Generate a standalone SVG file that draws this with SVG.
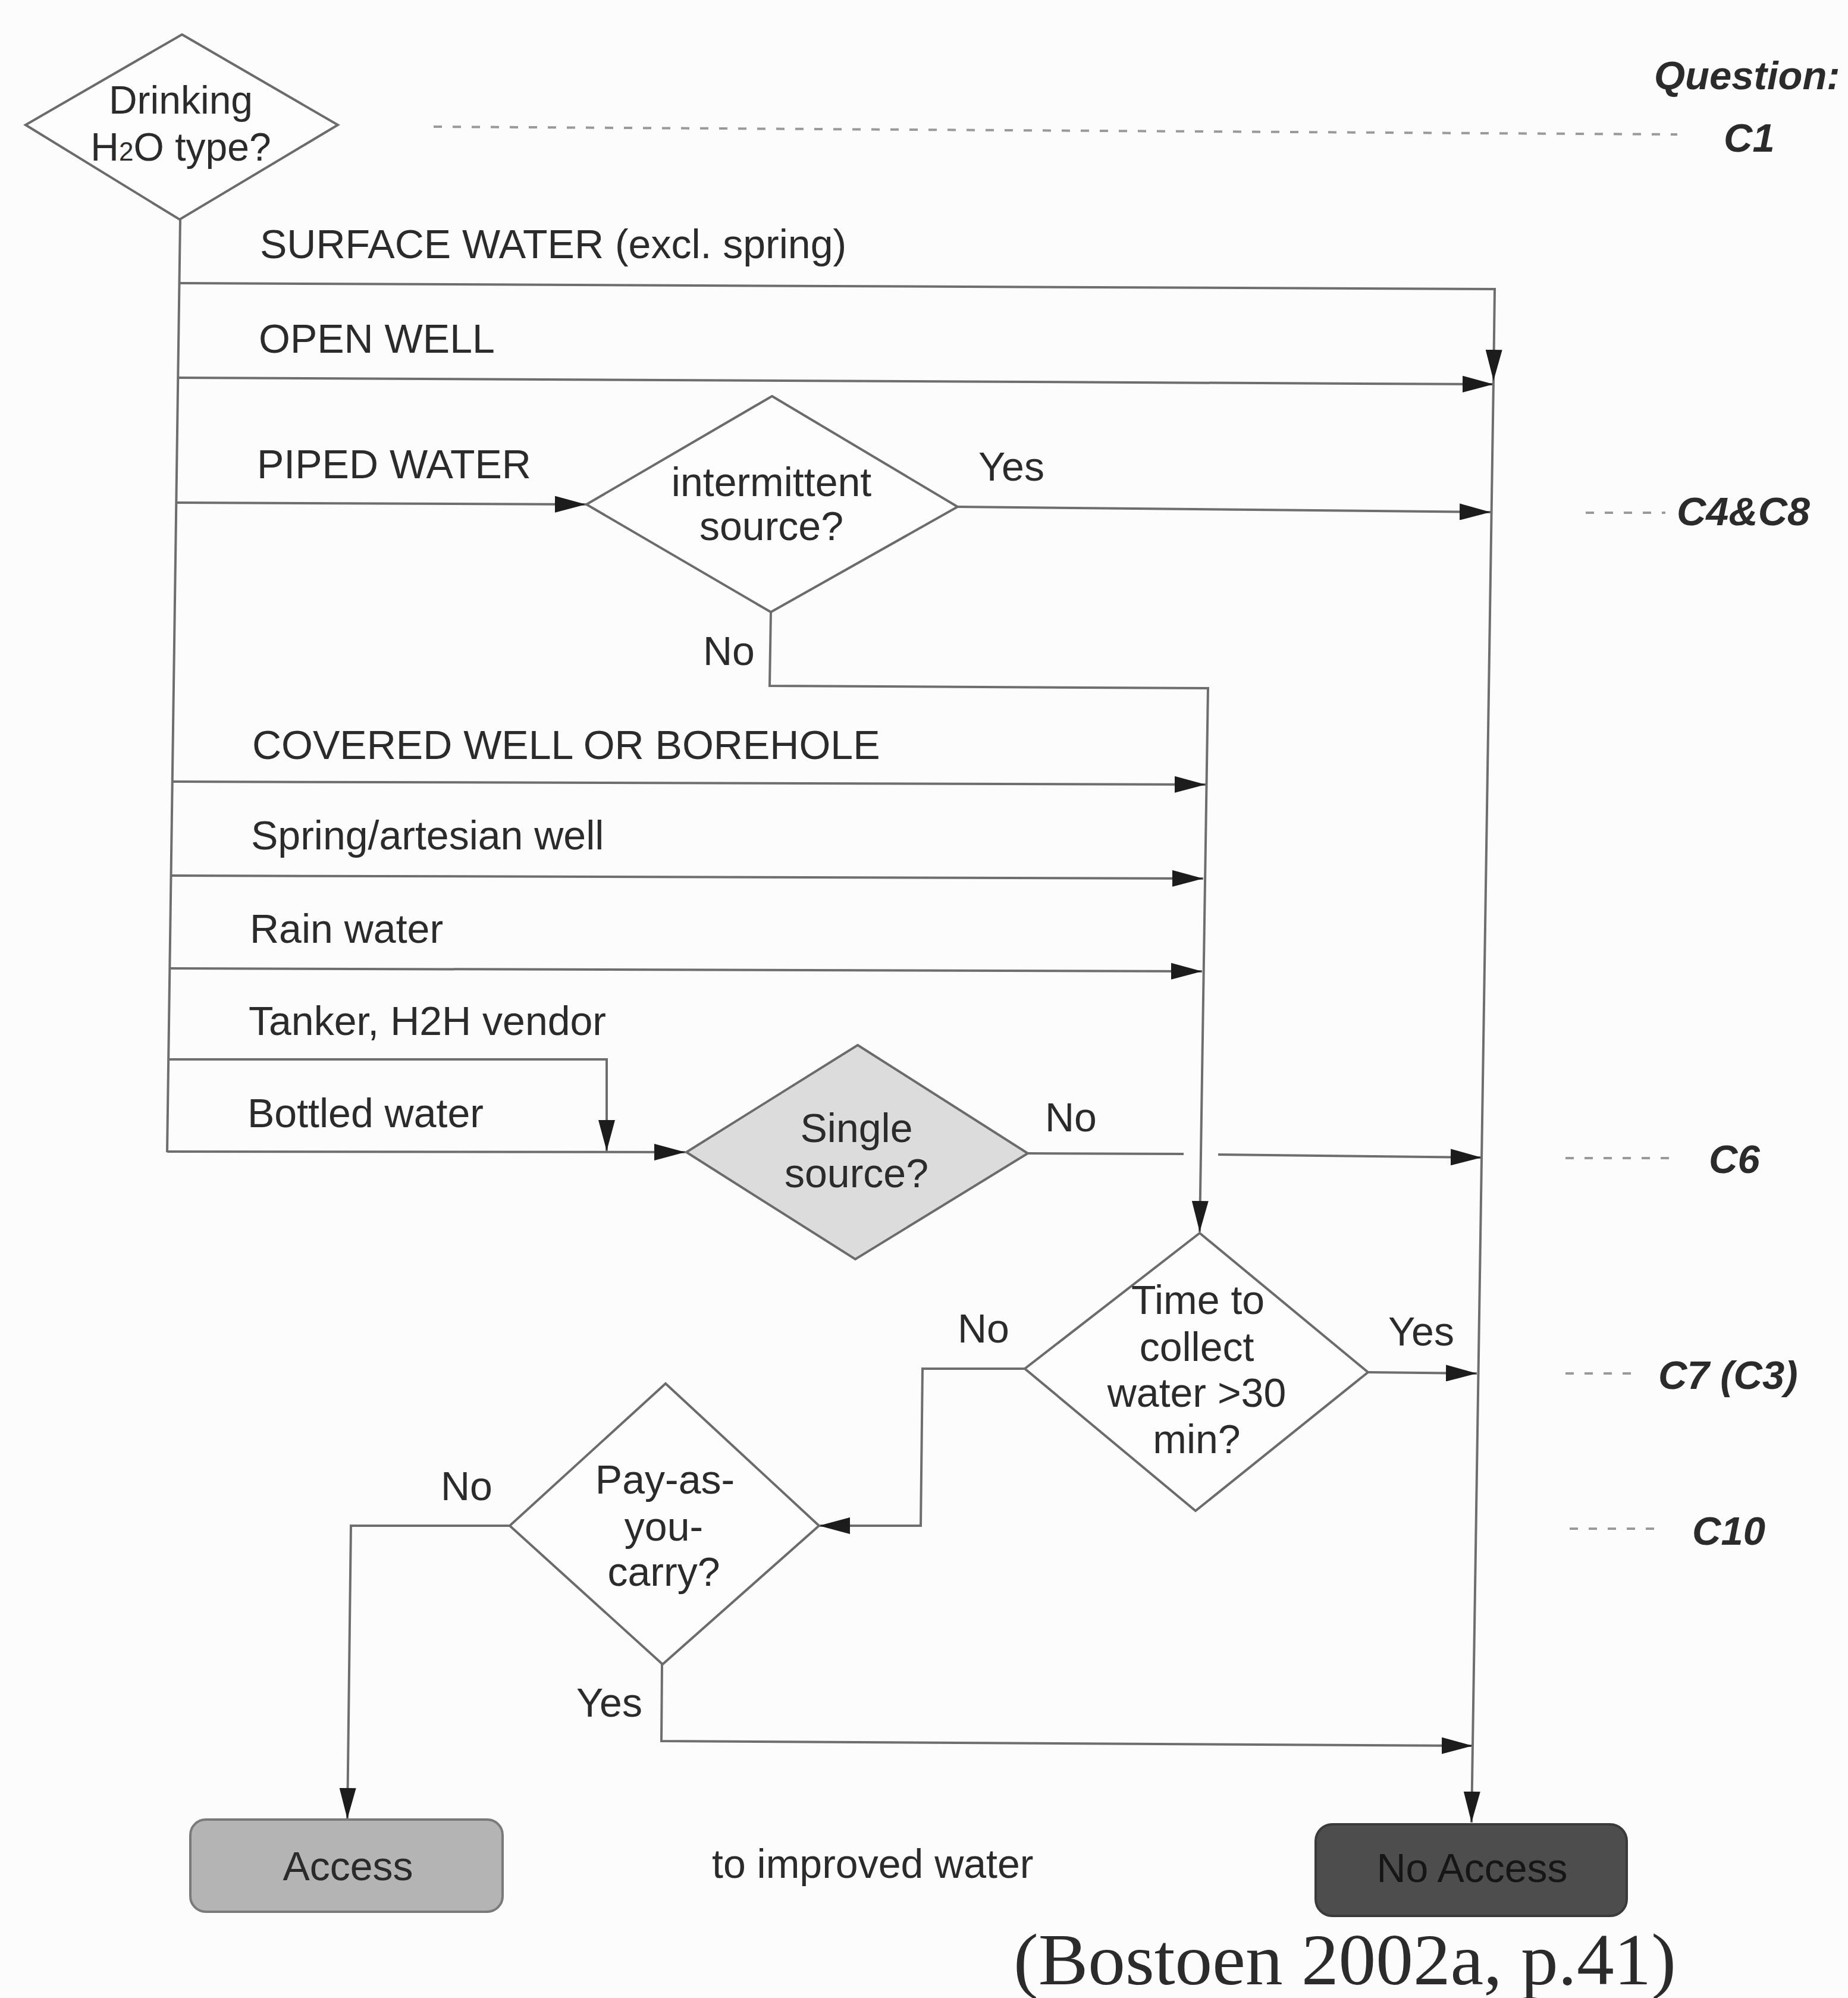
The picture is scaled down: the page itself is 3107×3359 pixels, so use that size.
<svg xmlns="http://www.w3.org/2000/svg" width="3107" height="3359" viewBox="0 0 3107 3359">
<defs>
<marker id="arr" viewBox="0 0 52 28" refX="52" refY="14" markerUnits="userSpaceOnUse" markerWidth="52" markerHeight="28" orient="auto">
<path d="M0,0 L52,14 L0,28 z" fill="#1c1c1c"/>
</marker>
<style>
.t{font-family:"Liberation Sans",Arial,sans-serif;font-size:68px;fill:#2b2b2b}
.c{text-anchor:middle}
.q{font-family:"Liberation Sans",Arial,sans-serif;font-size:67px;font-weight:bold;font-style:italic;fill:#2b2b2b}
.ln{fill:none;stroke:#6e6e6e;stroke-width:4}
.ar{fill:none;stroke:#6e6e6e;stroke-width:4;marker-end:url(#arr)}
.dash{fill:none;stroke:#9a9a9a;stroke-width:4;stroke-dasharray:14 18}
.dia{fill:#fdfdfd;stroke:#6b6b6b;stroke-width:4}
</style>
</defs>
<rect x="0" y="0" width="3107" height="3359" fill="#fcfcfc"/>

<g id="connectors">
<path class="ln" d="M303,369 L281,1937"/>
<path class="ar" d="M302,476 L2513,486 L2511,640"/>
<path class="ar" d="M300,635 L2511,646"/>
<path class="ar" d="M297,845 L985,848"/>
<path class="ar" d="M1610,852 L2506,861"/>
<path class="ar" d="M1296,1029 L1294,1153 L2031,1157 L2017,2071"/>
<path class="ar" d="M290,1314 L2027,1319"/>
<path class="ar" d="M288,1472 L2023,1477"/>
<path class="ar" d="M285,1628 L2021,1633"/>
<path class="ar" d="M283,1781 L1020,1781 L1020,1935"/>
<path class="ar" d="M281,1936 L1152,1937"/>
<path class="ln" d="M1728,1939 L1990,1940"/>
<path class="ar" d="M2048,1941 L2491,1946"/>
<path class="ar" d="M2300,2307 L2483,2309"/>
<path class="ar" d="M1723,2301 L1551,2301 L1548,2565 L1377,2565"/>
<path class="ar" d="M857,2565 L590,2565 L584,3058"/>
<path class="ar" d="M1113,2798 L1112,2927 L2476,2935"/>
<path class="ar" d="M2511,640 L2474,3064"/>
<path class="dash" d="M729,213 L2820,226"/>
<path class="dash" d="M2666,862 L2800,862"/>
<path class="dash" d="M2632,1947 L2820,1947"/>
<path class="dash" d="M2632,2309 L2749,2309"/>
<path class="dash" d="M2639,2570 L2799,2570"/>
</g>

<g id="n-drinking">
<polygon class="dia" points="306,58 568,210 302,369 43,210"/>
<text class="t c" x="304" y="191" style="font-size:66px">Drinking</text>
<text class="t c" x="304" y="270" style="font-size:66px">H<tspan style="font-size:44px">2</tspan>O type?</text>
</g>

<g id="n-intermittent">
<polygon class="dia" points="1298,666 1610,852 1296,1029 986,848"/>
<text class="t c" x="1297" y="834">intermittent</text>
<text class="t c" x="1297" y="908">source?</text>
</g>

<g id="n-single">
<polygon points="1442,1757 1728,1939 1438,2117 1154,1937" fill="#dcdcdc" stroke="#6b6b6b" stroke-width="4"/>
<text class="t c" x="1440" y="1920">Single</text>
<text class="t c" x="1440" y="1996">source?</text>
</g>

<g id="n-time">
<polygon class="dia" points="2017,2073 2300,2307 2010,2540 1723,2301"/>
<text class="t c" x="2014" y="2209">Time to</text>
<text class="t c" x="2012" y="2288">collect</text>
<text class="t c" x="2012" y="2365">water &gt;30</text>
<text class="t c" x="2012" y="2443">min?</text>
</g>

<g id="n-pay">
<polygon class="dia" points="1119,2326 1377,2565 1114,2798 857,2565"/>
<text class="t c" x="1118" y="2511">Pay-as-</text>
<text class="t c" x="1116" y="2590">you-</text>
<text class="t c" x="1116" y="2666">carry?</text>
</g>

<g id="n-access">
<rect x="320" y="3059" width="525" height="155" rx="26" fill="#b4b4b4" stroke="#7a7a7a" stroke-width="4"/>
<text class="t c" x="585" y="3161">Access</text>
</g>

<g id="n-noaccess">
<rect x="2212" y="3067" width="523" height="154" rx="28" fill="#4d4d4d" stroke="#3a3a3a" stroke-width="4"/>
<text class="t c" x="2475" y="3164" style="fill:#161616">No Access</text>
</g>

<g id="labels">
<text class="t" x="437" y="434">SURFACE WATER (excl. spring)</text>
<text class="t" x="435" y="593">OPEN WELL</text>
<text class="t" x="432" y="804">PIPED WATER</text>
<text class="t" x="1645" y="808">Yes</text>
<text class="t" x="1182" y="1118">No</text>
<text class="t" x="424" y="1276">COVERED WELL OR BOREHOLE</text>
<text class="t" x="422" y="1428">Spring/artesian well</text>
<text class="t" x="420" y="1585">Rain water</text>
<text class="t" x="418" y="1740">Tanker, H2H vendor</text>
<text class="t" x="416" y="1895">Bottled water</text>
<text class="t" x="1757" y="1902">No</text>
<text class="t" x="1610" y="2257">No</text>
<text class="t" x="2334" y="2262">Yes</text>
<text class="t" x="741" y="2522">No</text>
<text class="t" x="969" y="2886">Yes</text>
<text class="t" x="1197" y="3157">to improved water</text>
<text x="1704" y="3336" style="font-family:'Liberation Serif','Times New Roman',serif;font-size:122px;fill:#2b2b2b" textLength="1114" lengthAdjust="spacingAndGlyphs">(Bostoen 2002a, p.41)</text>
<text class="q" x="2781" y="150">Question:</text>
<text class="q" x="2898" y="255">C1</text>
<text class="q" x="2819" y="883" textLength="224" lengthAdjust="spacingAndGlyphs">C4&amp;C8</text>
<text class="q" x="2873" y="1972">C6</text>
<text class="q" x="2788" y="2335">C7 (C3)</text>
<text class="q" x="2845" y="2597">C10</text>
</g>
</svg>
